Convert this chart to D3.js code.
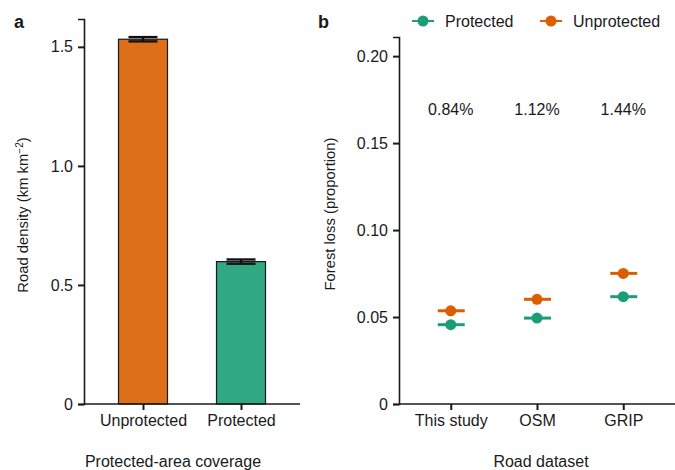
<!DOCTYPE html>
<html>
<head>
<meta charset="utf-8">
<script src="https://cdn.jsdelivr.net/npm/d3@7"></script>
<style>
  body { margin: 0; background: #fff; }
  text { font-family: "Liberation Sans", Arial, sans-serif; fill: #1a1a1a; }
</style>
</head>
<body>
<div id="chart"></div>
<script>
// panel a data
const coverage = ["Unprotected", "Protected"];
const density = [1.532, 0.598];
const densityErr = [0.009, 0.009];
const densityTicks = [0, 0.5, 1.0, 1.5];

// panel b data
const datasets = ["This study", "OSM", "GRIP"];
const lossProtected = [0.0456, 0.0494, 0.0617];
const lossUnprotected = [0.0536, 0.0602, 0.0751];
const pctLabels = ["0.84%", "1.12%", "1.44%"];
const lossTicks = [0, 0.05, 0.10, 0.15, 0.20];

const orange = "#d95f02";
const green = "#1b9e77";
const fs = "16px";

const svg = d3.select("#chart").append("svg")
  .attr("width", 675)
  .attr("height", 470);

// ---- panel a ----
const ya = d3.scaleLinear().domain([0, 1.617]).range([404, 19]);
const xa = d3.scalePoint().domain(coverage).range([143, 241]);

const gA = svg.append("g");

gA.selectAll("rect.bar")
  .data(coverage)
  .join("rect")
  .attr("class", "bar")
  .attr("x", d => xa(d) - 24.5)
  .attr("width", 49)
  .attr("y", (d, i) => ya(density[i]))
  .attr("height", (d, i) => ya(0) - ya(density[i]))
  .attr("fill", (d, i) => i === 0 ? orange : green)
  .attr("fill-opacity", 0.9)
  .attr("stroke", "#1a1a1a")
  .attr("stroke-width", 1.2);

// error bars
const err = gA.selectAll("g.err")
  .data(coverage)
  .join("g")
  .attr("class", "err")
  .attr("stroke", "#111")
  .attr("stroke-width", 2.4);
err.append("line")
  .attr("x1", d => xa(d)).attr("x2", d => xa(d))
  .attr("y1", (d, i) => ya(density[i] + densityErr[i]))
  .attr("y2", (d, i) => ya(density[i] - densityErr[i]));
err.append("line")
  .attr("x1", d => xa(d) - 14.5).attr("x2", d => xa(d) + 14.5)
  .attr("y1", (d, i) => ya(density[i] + densityErr[i]))
  .attr("y2", (d, i) => ya(density[i] + densityErr[i]));
err.append("line")
  .attr("x1", d => xa(d) - 14.5).attr("x2", d => xa(d) + 14.5)
  .attr("y1", (d, i) => ya(density[i] - densityErr[i]))
  .attr("y2", (d, i) => ya(density[i] - densityErr[i]));

const yAxisA = gA.append("g")
  .attr("transform", "translate(84,0)")
  .call(d3.axisLeft(ya).tickValues(densityTicks).tickSize(6).tickPadding(5)
    .tickFormat(d => d === 0 ? "0" : d3.format(".1f")(d)));

const xAxisA = gA.append("g")
  .attr("transform", "translate(0,404)")
  .call(d3.axisBottom(xa).tickSize(6).tickPadding(5));
xAxisA.select(".domain").attr("d", "M84,0H300");

gA.append("text")
  .attr("x", 173).attr("y", 467)
  .attr("text-anchor", "middle")
  .style("font-size", fs)
  .text("Protected-area coverage");

const ytA = gA.append("text")
  .attr("transform", "translate(28,215) rotate(-90)")
  .attr("text-anchor", "middle")
  .style("font-size", "14.8px");
ytA.append("tspan").text("Road density (km km");
ytA.append("tspan").attr("dy", -5).style("font-size", "10px").text("\u22122");
ytA.append("tspan").attr("dy", 5).text(")");

gA.append("text")
  .attr("x", 14).attr("y", 28)
  .style("font-size", "18px").style("font-weight", "bold")
  .text("a");

// ---- panel b ----
const yb = d3.scaleLinear().domain([0, 0.211]).range([404, 37]);
const xb = d3.scalePoint().domain(datasets).range([399, 675]).padding(0.6);

const gB = svg.append("g");

const yAxisB = gB.append("g")
  .attr("transform", "translate(399,0)")
  .call(d3.axisLeft(yb).tickValues(lossTicks).tickSize(6).tickPadding(5)
    .tickFormat(d => d === 0 ? "0" : d3.format(".2f")(d)));

const xAxisB = gB.append("g")
  .attr("transform", "translate(0,404)")
  .call(d3.axisBottom(xb).tickSize(6).tickPadding(5));
xAxisB.select(".domain").attr("d", "M399,0H675");

[yAxisA, xAxisA, yAxisB, xAxisB].forEach(ax => {
  ax.select(".domain").attr("stroke", "#1a1a1a").attr("stroke-width", 1.6);
  ax.selectAll(".tick line").attr("stroke", "#1a1a1a").attr("stroke-width", 2);
  ax.selectAll(".tick text")
    .style("font-size", fs)
    .style("font-family", "'Liberation Sans', Arial, sans-serif")
    .attr("fill", "#1a1a1a");
});

const series = [
  { name: "Protected", values: lossProtected, color: green },
  { name: "Unprotected", values: lossUnprotected, color: orange }
];

series.forEach(s => {
  const g = gB.append("g");
  g.selectAll("line")
    .data(datasets)
    .join("line")
    .attr("x1", d => xb(d) - 13).attr("x2", d => xb(d) + 14)
    .attr("y1", (d, i) => yb(s.values[i])).attr("y2", (d, i) => yb(s.values[i]))
    .attr("stroke", s.color).attr("stroke-width", 3);
  g.selectAll("circle")
    .data(datasets)
    .join("circle")
    .attr("cx", d => xb(d))
    .attr("cy", (d, i) => yb(s.values[i]))
    .attr("r", 5.5)
    .attr("fill", s.color);
});

gB.selectAll("text.pct")
  .data(datasets)
  .join("text")
  .attr("class", "pct")
  .attr("x", d => xb(d))
  .attr("y", 115)
  .attr("text-anchor", "middle")
  .style("font-size", fs)
  .text((d, i) => pctLabels[i]);

gB.append("text")
  .attr("x", 541).attr("y", 467)
  .attr("text-anchor", "middle")
  .style("font-size", fs)
  .text("Road dataset");

gB.append("text")
  .attr("transform", "translate(335,214) rotate(-90)")
  .attr("text-anchor", "middle")
  .style("font-size", "14.8px")
  .text("Forest loss (proportion)");

gB.append("text")
  .attr("x", 318).attr("y", 28)
  .style("font-size", "18px").style("font-weight", "bold")
  .text("b");

// legend
const legendX = [412, 540];
const leg = gB.selectAll("g.leg")
  .data(series)
  .join("g")
  .attr("class", "leg")
  .attr("transform", (d, i) => `translate(${legendX[i]},21)`);
leg.append("line")
  .attr("x1", 0).attr("x2", 22)
  .attr("stroke", d => d.color).attr("stroke-width", 2);
leg.append("circle")
  .attr("cx", 11).attr("r", 5.5)
  .attr("fill", d => d.color);
leg.append("text")
  .attr("x", 33).attr("y", 6)
  .style("font-size", fs)
  .text(d => d.name);
</script>
</body>
</html>
